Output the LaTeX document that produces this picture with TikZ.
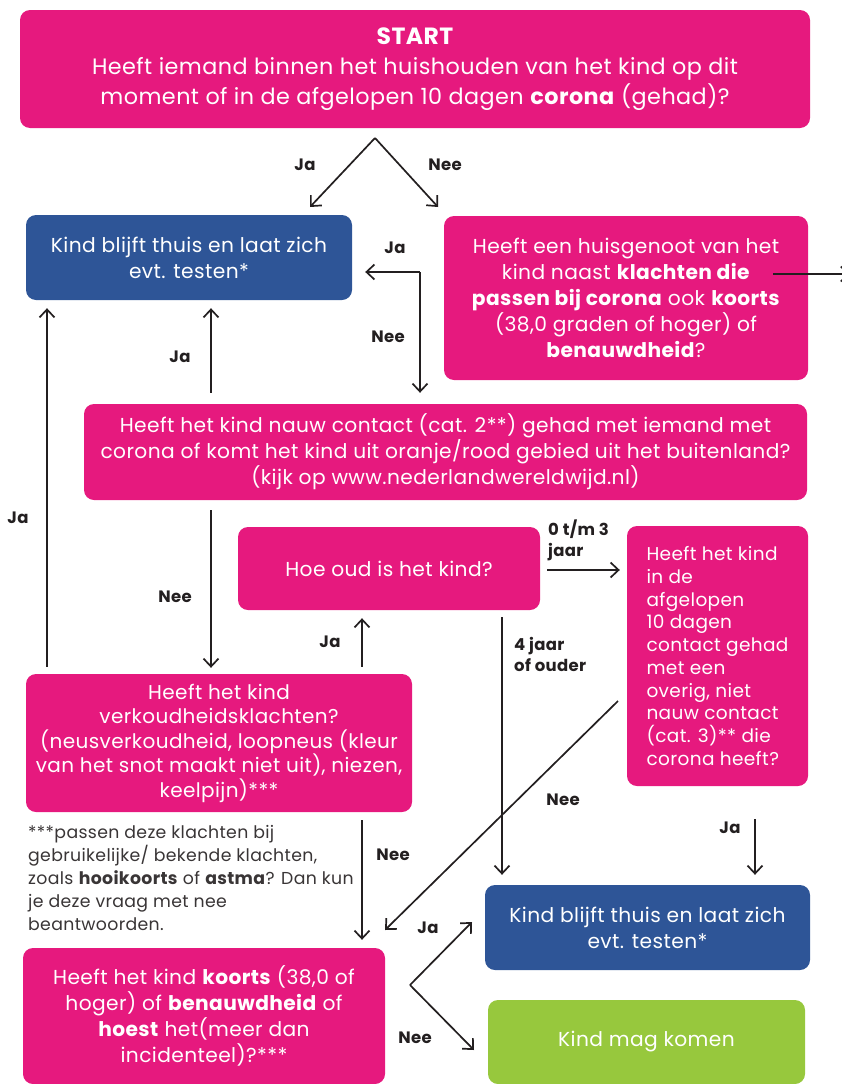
\documentclass[tikz,border=0pt]{standalone}
\usepackage{fontspec}
\setmainfont{Poppins}[LetterSpace=2]
\usetikzlibrary{positioning,calc,arrows,arrows.meta}

\definecolor{roze}{HTML}{E6197E}
\definecolor{donkerblauw}{HTML}{2E5597}
\definecolor{groen}{HTML}{97C83D}
\definecolor{lijn}{HTML}{231F20}

\tikzset{
  vraag/.style={rectangle, rounded corners=10pt, fill=roze, text=white, align=center, inner sep=0pt, font=\fontsize{20.2}{26}\selectfont},
  thuis/.style={vraag, fill=donkerblauw},
  komen/.style={vraag, fill=groen},
  pijl/.style={-{Straight Barb[length=8pt,width=15pt]}, line width=1.7pt, draw=lijn},
  lbl/.style={font=\bfseries\fontsize{16.5}{21}\selectfont, text=lijn, inner sep=0pt}
}

\begin{document}
\begin{tikzpicture}[x={(1pt,0)}, y={(0,-1pt)}]
\useasboundingbox (0,0) rectangle (841,1084);

% boxes
\node[vraag, minimum width=790, minimum height=118, font=\fontsize{22.3}{30}\selectfont] (start) at (415,69)
  {{\bfseries\fontsize{23.5}{30}\selectfont START}\\Heeft iemand binnen het huishouden van het kind op dit\\moment of in de afgelopen 10 dagen \textbf{corona} (gehad)?};
\node[thuis, minimum width=326, minimum height=85] (blauw1) at (189,257.5)
  {Kind blijft thuis en laat zich\\evt. testen*};
\node[vraag, minimum width=364, minimum height=164] (huisgenoot) at (626,298)
  {Heeft een huisgenoot van het\\kind naast \textbf{klachten die}\\\textbf{passen bij corona} ook \textbf{koorts}\\(38,0 graden of hoger) of\\\textbf{benauwdheid}?};
\node[vraag, minimum width=723, minimum height=96] (nauw) at (445.5,452)
  {Heeft het kind nauw contact (cat. 2**) gehad met iemand met\\corona of komt het kind uit oranje/rood gebied uit het buitenland?\\(kijk op www.nederlandwereldwijd.nl)};
\node[vraag, minimum width=302, minimum height=83] (hoeoud) at (389,568.5)
  {Hoe oud is het kind?};
\node[vraag, minimum width=181, minimum height=260, align=left, font=\fontsize{18.5}{22.7}\selectfont] (overig) at (717.5,656)
  {Heeft het kind\\in de\\afgelopen\\10 dagen\\contact gehad\\met een\\overig, niet\\nauw contact\\(cat. 3)** die\\corona heeft?};
\node[vraag, minimum width=386, minimum height=138, font=\fontsize{20}{24.5}\selectfont] (verkoud) at (219,743)
  {Heeft het kind\\verkoudheidsklachten?\\(neusverkoudheid, loopneus (kleur\\van het snot maakt niet uit), niezen,\\keelpijn)***};
\node[vraag, minimum width=362, minimum height=136] (koorts) at (204,1016)
  {Heeft het kind \textbf{koorts} (38,0 of\\hoger) of \textbf{benauwdheid} of\\\textbf{hoest} het(meer dan\\incidenteel)?***};
\node[thuis, minimum width=325, minimum height=85] (blauw2) at (647.5,927.5)
  {Kind blijft thuis en laat zich\\evt. testen*};
\node[komen, minimum width=317, minimum height=84] (mag) at (646.5,1042)
  {Kind mag komen};

% voetnoot
\node[anchor=north west, align=left, text=lijn!90, inner sep=0pt, font=\fontsize{17.3}{23}\selectfont] (voetnoot) at (28,825)
  {***passen deze klachten bij\\gebruikelijke/ bekende klachten,\\zoals \textbf{hooikoorts} of \textbf{astma}? Dan kun\\je deze vraag met nee\\beantwoorden.};

% hulpcoordinaten
\coordinate (splits) at (375,138);
\coordinate (hoek) at (420,272);
\coordinate (k47) at (47,0);
\coordinate (k211) at (211,0);
\coordinate (k362) at (362,0);
\coordinate (k502) at (502,0);
\coordinate (k755) at (755,0);
\coordinate (r570) at (0,570);
\coordinate (diagbegin) at (618,701);
\coordinate (diageind) at (385,930);
\coordinate (vork) at (410,985);
\coordinate (uitgang) at (773,274);
\coordinate (rand) at (850,274);

% pijlen
\draw[pijl] (splits) -- (310,207);
\draw[pijl] (splits) -- (438,207);
\draw[pijl, shorten >=13pt] (hoek) -- (blauw1.east |- hoek);
\draw[pijl, shorten >=11pt] (hoek) -- (nauw.north -| hoek);
\draw[pijl] (uitgang) -- (rand);
\draw[pijl, shorten <=11pt, shorten >=8pt] (nauw.north -| k211) -- (blauw1.south -| k211);
\draw[pijl, shorten <=7pt, shorten >=8pt] (verkoud.north -| k47) -- (blauw1.south -| k47);
\draw[pijl, shorten <=10pt, shorten >=6pt] (nauw.south -| k211) -- (verkoud.north -| k211);
\draw[pijl, shorten <=7pt, shorten >=8pt] (verkoud.north -| k362) -- (hoeoud.south -| k362);
\draw[pijl, shorten <=7pt, shorten >=7pt] (hoeoud.east |- r570) -- (overig.west |- r570);
\draw[pijl, shorten <=7pt, shorten >=10pt] (hoeoud.south -| k502) -- (blauw2.north -| k502);
\draw[pijl, shorten <=33pt, shorten >=10pt] (overig.south -| k755) -- (blauw2.north -| k755);
\draw[pijl] (diagbegin) -- (diageind);
\draw[pijl, shorten <=8pt, shorten >=8pt] (verkoud.south -| k362) -- (koorts.north -| k362);
\draw[pijl] (vork) -- (472,922);
\draw[pijl] (vork) -- (474,1050);

% labels
\node[lbl] (ja1) at (305,165) {Ja};
\node[lbl] (nee1) at (445,165) {Nee};
\node[lbl] (ja2) at (395,248) {Ja};
\node[lbl] (nee2) at (388,337) {Nee};
\node[lbl] (ja3) at (180,357) {Ja};
\node[lbl] (ja4) at (18,518) {Ja};
\node[lbl] (nee3) at (175,597) {Nee};
\node[lbl] (ja5) at (330,642) {Ja};
\node[lbl, anchor=west, align=left] (jong) at (548,540) {0 t/m 3\\jaar};
\node[lbl, anchor=west, align=left] (oud) at (514,654) {4 jaar\\of ouder};
\node[lbl] (nee4) at (563,800) {Nee};
\node[lbl] (ja6) at (730,828) {Ja};
\node[lbl] (nee5) at (393,855) {Nee};
\node[lbl] (ja7) at (428,928) {Ja};
\node[lbl] (nee6) at (415,1038) {Nee};
\end{tikzpicture}
\end{document}
